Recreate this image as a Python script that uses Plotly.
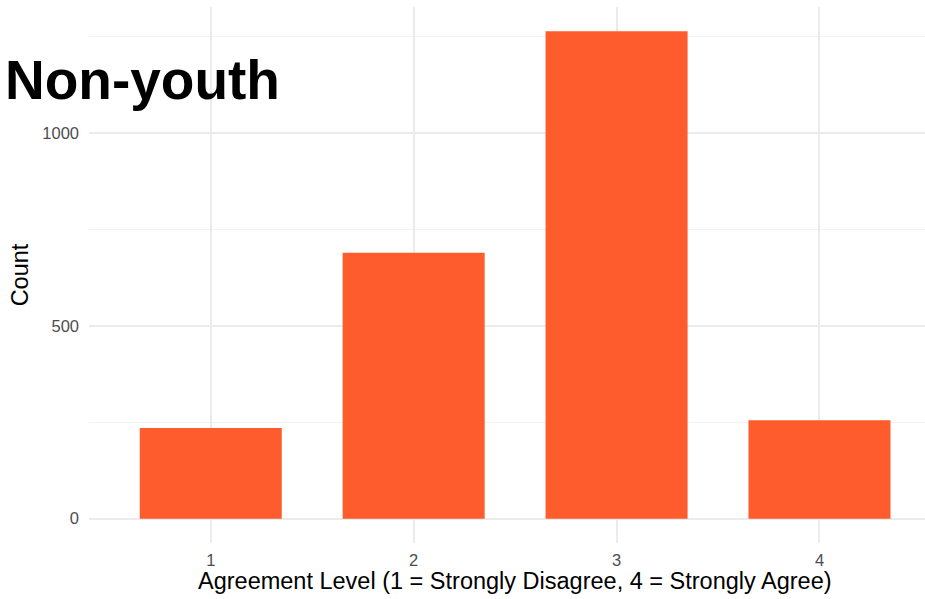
import plotly.graph_objects as go

categories = [1, 2, 3, 4]
counts = [235, 690, 1264, 255]
y_ticks = [0, 500, 1000]
y_minor = [250, 750, 1250]
x_title = "Agreement Level (1 = Strongly Disagree, 4 = Strongly Agree)"

fig = go.Figure()
fig.add_trace(go.Bar(
    x=categories, y=counts, width=0.7,
    marker=dict(color="#FF5C2E", line=dict(width=0)),
    hoverinfo="x+y",
))

ymax = max(counts)
L, T, B, W, H = 89, 7, 56, 925, 599
plot_w = W - L
plot_h = H - T - B
fig.update_layout(
    width=W, height=H,
    paper_bgcolor="white", plot_bgcolor="white",
    margin=dict(l=L, r=0, t=T, b=B, autoexpand=False),
    font=dict(family="Liberation Sans, Arial, sans-serif"),
    showlegend=False,
    title=dict(text="<b>Non-youth</b>", x=5/925, xanchor="left",
               y=1 - 80/599, yanchor="middle", yref="container", xref="container",
               font=dict(size=55, color="black", family="Liberation Sans, Arial, sans-serif")),
    xaxis=dict(
        range=[0.4, 4.52], tickvals=categories, ticktext=[str(c) for c in categories],
        showgrid=True, gridcolor="#EBEBEB", gridwidth=1.6, zeroline=False,
        showline=False, ticks="", tickfont=dict(size=16.5, color="#4D4D4D"),
        ticklabelstandoff=5,
    ),
    yaxis=dict(
        range=[-0.05 * ymax, 1.05 * ymax], tickvals=y_ticks,
        showgrid=True, gridcolor="#EBEBEB", gridwidth=1.6, zeroline=False,
        showline=False, ticks="", tickfont=dict(size=16.5, color="#4D4D4D"),
        ticklabelstandoff=9,
        minor=dict(tickvals=y_minor, showgrid=True, gridcolor="#F2F2F2", gridwidth=0.8),
        title=dict(text="Count", font=dict(size=23.5, color="black"), standoff=7),
    ),
    annotations=[dict(
        text=x_title, xref="paper", yref="paper",
        x=(515 - L) / plot_w, y=-(581 - (H - B)) / plot_h,
        xanchor="center", yanchor="middle", showarrow=False,
        font=dict(size=23.5, color="black"),
    )],
)

fig.write_html("out.html", config={"displayModeBar": False})
with open("out.html", encoding="utf-8") as f:
    html = f.read()
html = html.replace("<head>", "<head><style>html,body{margin:0;padding:0;overflow:hidden;}</style>", 1)
with open("out.html", "w", encoding="utf-8") as f:
    f.write(html)
